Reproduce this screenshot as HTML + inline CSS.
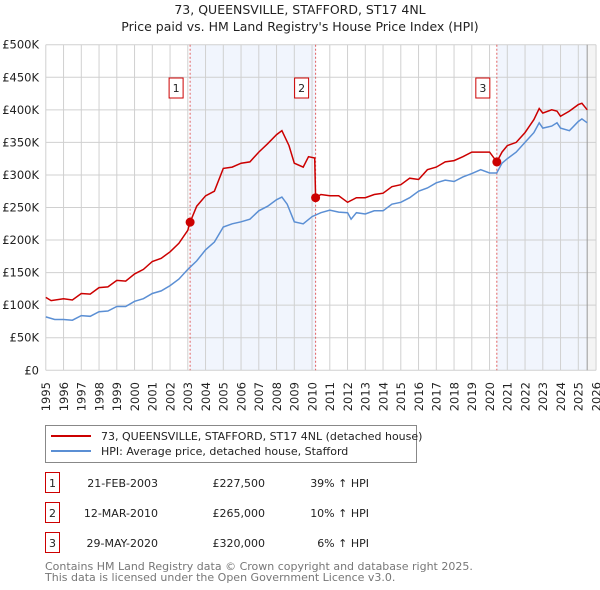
<!DOCTYPE html>
<html><head><meta charset="utf-8"><style>
body{margin:0;background:#fff;font-family:"Liberation Sans","DejaVu Sans",sans-serif;}
#wrap{position:relative;width:600px;height:590px;overflow:hidden;}
svg text{font-family:"DejaVu Sans","Liberation Sans",sans-serif;}
</style></head><body><div id="wrap">
<svg id="svg" width="600" height="590"></svg>
</div>
<script>
const years=[1995,1996,1997,1998,1999,2000,2001,2002,2003,2004,2005,2006,2007,2008,2009,2010,2011,2012,2013,2014,2015,2016,2017,2018,2019,2020,2021,2022,2023,2024,2025,2026];
const yTicks=[0,50,100,150,200,250,300,350,400,450,500];
const hpiT=[1995,1995.5,1996,1996.5,1997,1997.5,1998,1998.5,1999,1999.5,2000,2000.5,2001,2001.5,2002,2002.5,2003,2003.5,2004,2004.5,2005,2005.5,2006,2006.5,2007,2007.5,2008,2008.3,2008.6,2009,2009.5,2010,2010.5,2011,2011.5,2012,2012.2,2012.5,2013,2013.5,2014,2014.5,2015,2015.5,2016,2016.5,2017,2017.5,2018,2018.5,2019,2019.5,2020,2020.4,2020.7,2021,2021.5,2022,2022.5,2022.8,2023,2023.5,2023.8,2024,2024.5,2025,2025.2,2025.5];
const hpiV=[82,78,78,77,84,83,90,91,98,98,106,110,118,122,130,140,155,168,185,197,220,225,228,232,245,252,262,266,255,228,225,236,242,246,243,242,232,242,240,245,245,255,258,265,275,280,288,292,290,297,302,308,303,303,318,325,335,350,365,380,372,375,380,372,368,382,386,380];
const redT=[1995,1995.3,1996,1996.5,1997,1997.5,1998,1998.5,1999,1999.5,2000,2000.5,2001,2001.5,2002,2002.5,2003,2003.13,2003.5,2004,2004.5,2005,2005.5,2006,2006.5,2007,2007.5,2008,2008.3,2008.7,2009,2009.5,2009.8,2010.15,2010.2,2010.5,2011,2011.5,2012,2012.5,2013,2013.5,2014,2014.5,2015,2015.5,2016,2016.5,2017,2017.5,2018,2018.5,2019,2019.5,2020,2020.41,2020.7,2021,2021.5,2022,2022.5,2022.8,2023,2023.5,2023.8,2024,2024.5,2025,2025.2,2025.5];
const redV=[112,107,110,108,118,117,127,128,138,137,148,155,167,172,182,195,215,227.5,252,268,275,310,312,318,320,335,348,362,368,345,318,312,328,326,265,270,268,268,258,265,265,270,272,282,285,295,293,308,312,320,322,328,335,335,335,320,335,345,350,365,385,402,395,400,398,390,398,408,410,400];
const saleT=[2003.13,2010.2,2020.41];
const saleV=[227.5,265,320];
const saleLbl=["1","2","3"];
const saleDate=["21-FEB-2003","12-MAR-2010","29-MAY-2020"];
const salePrice=["£227,500","£265,000","£320,000"];
const saleHpi=["39% ↑ HPI","10% ↑ HPI","6% ↑ HPI"];
const shadeEnd=[2010.2,2025.5];

const X0=45.8,YW=17.75,Y0=370.3,YK=0.6512;
const sx=t=>X0+(t-1995)*YW, sy=v=>Y0-v*YK;
const svg=document.getElementById('svg');const NS='http://www.w3.org/2000/svg';
function mk(tag,a,txt){const e=document.createElementNS(NS,tag);for(const k in a)e.setAttribute(k,a[k]);if(txt!=null)e.textContent=txt;svg.appendChild(e);return e;}
let e;
e=mk('text',{x:300,y:14,'text-anchor':'middle','font-size':12.5,fill:'#222'},'73, QUEENSVILLE, STAFFORD, ST17 4NL');


e=mk('text',{x:300,y:31,'text-anchor':'middle','font-size':12.5,fill:'#222'},"Price paid vs. HM Land Registry's House Price Index (HPI)");


for(let i=0;i<saleT.length;i++){
  if(i===1)continue;
  const a=saleT[i], b=i===0?shadeEnd[0]:shadeEnd[1];
  e=mk('rect',{x:sx(a),y:sy(500),width:sx(b)-sx(a),height:sy(0)-sy(500),fill:'#eef3fc',opacity:0.8});
  
  
}
e=mk('rect',{x:sx(2025.5),y:sy(500),width:sx(2026)-sx(2025.5),height:sy(0)-sy(500),fill:'#f4f4f4'});


years.forEach(y=>{e=mk('line',{x1:sx(y),x2:sx(y),y1:sy(500),y2:sy(0),stroke:'#d0d0d0','stroke-width':1});


e=mk('text',{x:0,y:0,'text-anchor':'end','font-size':11.5,fill:'#222',transform:'translate('+(sx(y)+4.2)+',382) rotate(-90)'},String(y));

});
yTicks.forEach(v=>{e=mk('line',{x1:sx(1995),x2:sx(2026),y1:sy(v),y2:sy(v),stroke:'#d0d0d0','stroke-width':1});


e=mk('text',{x:39,y:sy(v)+4,'text-anchor':'end','font-size':11.5,fill:'#222'},v===0?'£0':'£'+v+'K');

});
e=mk('line',{x1:sx(2025.5),x2:sx(2025.5),y1:sy(500),y2:sy(0),stroke:'#999','stroke-width':1});


saleT.forEach((t,i)=>{e=mk('line',{x1:sx(t),x2:sx(t),y1:sy(500),y2:sy(0),stroke:'#e06060','stroke-width':1,'stroke-dasharray':'2,2'});


e=mk('rect',{x:sx(t)-21,y:78,width:14,height:20,fill:'#fff',stroke:'#cc0000','stroke-width':1});


e=mk('text',{x:sx(t)-14,y:92,'text-anchor':'middle','font-size':11,fill:'#222'},saleLbl[i]);

});
function path(T,V){return T.map((t,i)=>(i?'L':'M')+sx(t).toFixed(1)+','+sy(V[i]).toFixed(1)).join('');}
e=mk('path',{d:path(hpiT,hpiV),fill:'none',stroke:'#5b8fd4','stroke-width':1.5});


e=mk('path',{d:path(redT,redV),fill:'none',stroke:'#cc0000','stroke-width':1.5});


saleT.forEach((t,i)=>{e=mk('circle',{cx:sx(t),cy:sy(saleV[i]),r:4.5,fill:'#cc0000'});

});
e=mk('rect',{x:45.5,y:425.5,width:371,height:37,fill:'#fff',stroke:'#888','stroke-width':1});


e=mk('line',{x1:51,x2:91,y1:436,y2:436,stroke:'#cc0000','stroke-width':2});


e=mk('text',{x:101,y:440,'font-size':11,fill:'#222'},'73, QUEENSVILLE, STAFFORD, ST17 4NL (detached house)');


e=mk('line',{x1:51,x2:91,y1:451,y2:451,stroke:'#5b8fd4','stroke-width':2});


e=mk('text',{x:101,y:455,'font-size':11,fill:'#222'},'HPI: Average price, detached house, Stafford');


saleT.forEach((t,i)=>{const y=483+i*30;
e=mk('rect',{x:45.5,y:y-10.5,width:14,height:20,fill:'#fff',stroke:'#cc0000','stroke-width':1});


e=mk('text',{x:52.5,y:y+4,'text-anchor':'middle','font-size':11,fill:'#222'},saleLbl[i]);


e=mk('text',{x:158,y:y+4,'text-anchor':'end','font-size':11,fill:'#222'},saleDate[i]);


e=mk('text',{x:265,y:y+4,'text-anchor':'end','font-size':11,fill:'#222'},salePrice[i]);


e=mk('text',{x:369,y:y+4,'text-anchor':'end','font-size':11,fill:'#222'},saleHpi[i]);

});
e=mk('text',{x:45,y:570,'font-size':11,fill:'#777'},'Contains HM Land Registry data © Crown copyright and database right 2025.');


e=mk('text',{x:45,y:581,'font-size':11,fill:'#777'},'This data is licensed under the Open Government Licence v3.0.');


</script></body></html>
